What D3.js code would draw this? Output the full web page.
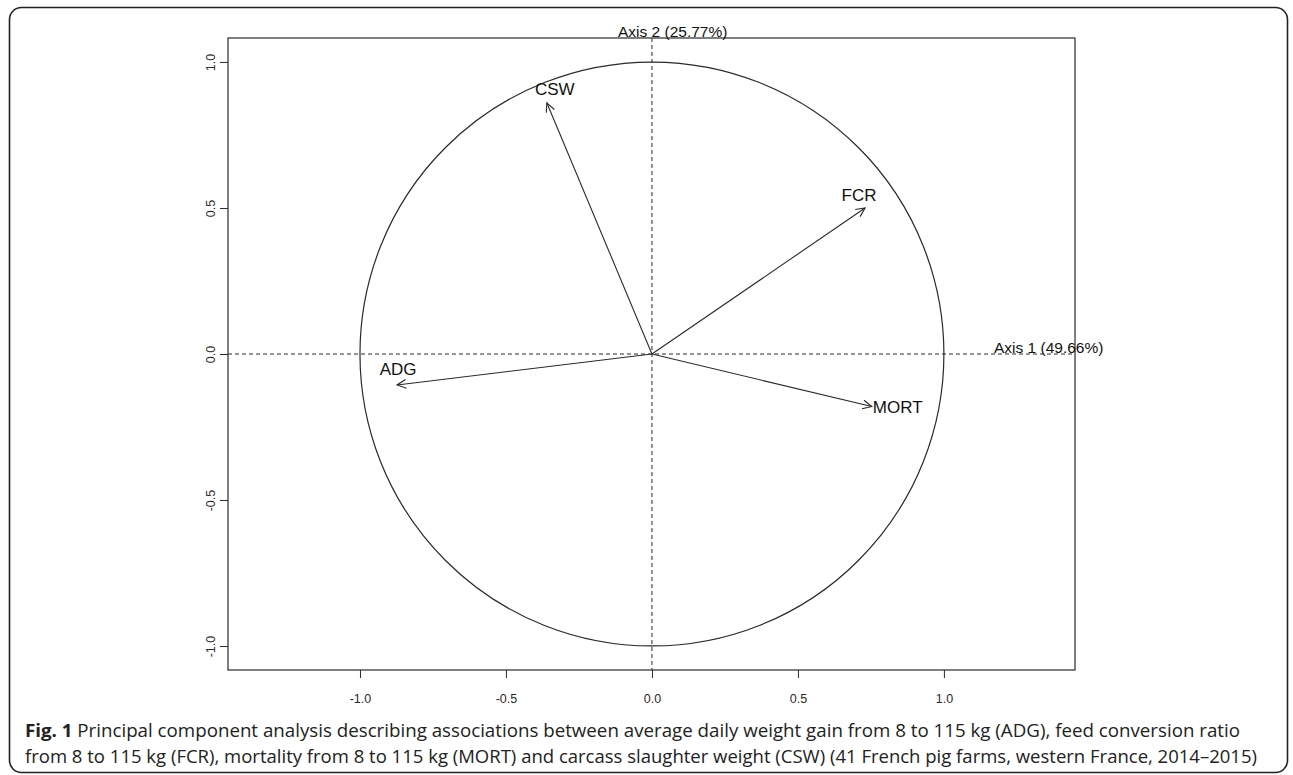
<!DOCTYPE html>
<html>
<head>
<meta charset="utf-8">
<script src="https://cdn.jsdelivr.net/npm/d3@7"></script>
<style>
  body { margin: 0; background: #fff; }
  svg { display: block; }
</style>
</head>
<body>
<svg id="chart" width="1293" height="775"></svg>
<script>
// PCA correlation circle values
const variables = ['CSW', 'FCR', 'ADG', 'MORT']
const axis1 = [-0.36, 0.73, -0.873, 0.753]
const axis2 = [0.86, 0.50, -0.106, -0.18]
const tickValues = [-1.0, -0.5, 0.0, 0.5, 1.0]
const axisTitles = ['Axis 1 (49.66%)', 'Axis 2 (25.77%)']

// label placement relative to arrow tip (px): dx, dy, anchor
const labelOffsets = [[8, -8, 'middle'], [-6, -7, 'middle'], [1, -10, 'middle'], [1, 6, 'start']]

const width = 1293, height = 775
const plot = {left: 228, top: 38, right: 1075, bottom: 670}
const ink = '#2a2a2a'
const font = '"Liberation Sans", Arial, sans-serif'

const svg = d3.select('#chart')

// outer rounded panel
svg.append('rect')
  .attr('x', 9.5).attr('y', 7.5)
  .attr('width', 1278).attr('height', 765)
  .attr('rx', 12)
  .attr('fill', 'none')
  .attr('stroke', '#222')
  .attr('stroke-width', 1.6)

const x = d3.scaleLinear().domain([-1.452, 1.449]).range([plot.left, plot.right])
const y = d3.scaleLinear().domain([-1.082, 1.082]).range([plot.bottom, plot.top])

const fmt = d => d.toFixed(1)

// x axis
const gx = svg.append('g')
  .attr('transform', `translate(0,${plot.bottom})`)
  .call(d3.axisBottom(x).tickValues(tickValues).tickFormat(fmt).tickSize(8).tickPadding(16))
gx.select('.domain').remove()
gx.selectAll('line').attr('stroke', ink)
gx.selectAll('text').attr('font-family', font).attr('font-size', 12.5).attr('fill', ink)

// y axis, labels parallel to the axis like base R
const gy = svg.append('g')
  .attr('transform', `translate(${plot.left},0)`)
  .call(d3.axisLeft(y).tickValues(tickValues).tickFormat(fmt).tickSize(8))
gy.select('.domain').remove()
gy.selectAll('line').attr('stroke', ink)
gy.selectAll('text')
  .attr('font-family', font).attr('font-size', 12.5).attr('fill', ink)
  .attr('x', null).attr('dy', null)
  .attr('text-anchor', 'middle')
  .attr('transform', 'translate(-17,0) rotate(-90)')
  .attr('y', 0)
  .attr('dominant-baseline', 'central')

// plot box
svg.append('rect')
  .attr('x', plot.left).attr('y', plot.top)
  .attr('width', plot.right - plot.left).attr('height', plot.bottom - plot.top)
  .attr('fill', 'none').attr('stroke', ink).attr('stroke-width', 1.2)

// dashed axes through the origin
svg.append('line')
  .attr('x1', plot.left).attr('x2', plot.right)
  .attr('y1', y(0)).attr('y2', y(0))
  .attr('stroke', ink).attr('stroke-dasharray', '4,3')
svg.append('line')
  .attr('x1', x(0)).attr('x2', x(0))
  .attr('y1', plot.top).attr('y2', plot.bottom)
  .attr('stroke', ink).attr('stroke-dasharray', '4,3')

// unit circle
svg.append('circle')
  .attr('cx', x(0)).attr('cy', y(0))
  .attr('r', x(1) - x(0))
  .attr('fill', 'none').attr('stroke', ink).attr('stroke-width', 1.2)

// arrows
const headLen = 10, headAng = Math.PI / 7
variables.forEach((name, i) => {
  const x0 = x(0), y0 = y(0)
  const x1 = x(axis1[i]), y1 = y(axis2[i])
  const a = Math.atan2(y1 - y0, x1 - x0)
  svg.append('line')
    .attr('x1', x0).attr('y1', y0).attr('x2', x1).attr('y2', y1)
    .attr('stroke', ink).attr('stroke-width', 1.1)
  const head = d3.path()
  head.moveTo(x1 - headLen * Math.cos(a - headAng), y1 - headLen * Math.sin(a - headAng))
  head.lineTo(x1, y1)
  head.lineTo(x1 - headLen * Math.cos(a + headAng), y1 - headLen * Math.sin(a + headAng))
  svg.append('path').attr('d', head.toString())
    .attr('fill', 'none').attr('stroke', ink).attr('stroke-width', 1.1)

  const [dx, dy, anchor] = labelOffsets[i]
  svg.append('text')
    .attr('x', x1 + dx).attr('y', y1 + dy)
    .attr('text-anchor', anchor)
    .attr('font-family', font).attr('font-size', 17)
    .attr('fill', '#111')
    .text(name)
})

// axis titles
svg.append('text')
  .attr('x', 994).attr('y', y(0) - 1)
  .attr('font-family', font).attr('font-size', 15.5).attr('fill', '#111')
  .text(axisTitles[0])
svg.append('text')
  .attr('x', 618).attr('y', plot.top - 1)
  .attr('font-family', font).attr('font-size', 15.5).attr('fill', '#111')
  .text(axisTitles[1])

// caption
const capFont = '"Open Sans", "Noto Sans", sans-serif'
const cap1 = svg.append('text')
  .attr('x', 25).attr('y', 737)
  .attr('font-family', capFont).attr('font-size', 18).attr('fill', '#222')
  .attr('textLength', 1215).attr('lengthAdjust', 'spacingAndGlyphs')
cap1.append('tspan').attr('font-weight', 'bold').text('Fig. 1')
cap1.append('tspan').text(' Principal component analysis describing associations between average daily weight gain from 8 to 115 kg (ADG), feed conversion ratio')

svg.append('text')
  .attr('x', 25).attr('y', 763)
  .attr('font-family', capFont).attr('font-size', 18).attr('fill', '#222')
  .attr('textLength', 1232).attr('lengthAdjust', 'spacingAndGlyphs')
  .text('from 8 to 115 kg (FCR), mortality from 8 to 115 kg (MORT) and carcass slaughter weight (CSW) (41 French pig farms, western France, 2014–2015)')
</script>
</body>
</html>
